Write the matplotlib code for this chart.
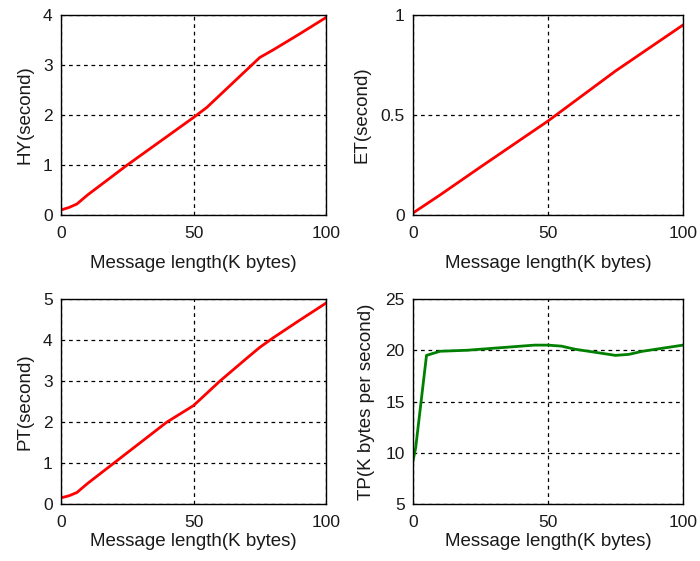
import numpy as np
import matplotlib.pyplot as plt

plt.rcParams["font.family"] = ["Liberation Sans", "DejaVu Sans"]

# message length (K bytes)
hy_x = [0, 3, 6, 10, 25, 40, 50, 55, 65, 75, 80, 90, 100]
hy_y = [0.1, 0.15, 0.22, 0.4, 1.0, 1.57, 1.95, 2.15, 2.65, 3.15, 3.3, 3.62, 3.95]

et_x = [0, 10, 25, 50, 75, 100]
et_y = [0.01, 0.1, 0.24, 0.47, 0.72, 0.95]

pt_x = [0, 3, 6, 10, 20, 30, 40, 50, 60, 70, 75, 80, 90, 100]
pt_y = [0.15, 0.2, 0.28, 0.5, 1.0, 1.5, 2.0, 2.4, 3.0, 3.55, 3.82, 4.05, 4.48, 4.9]

tp_x = [0, 1, 3, 5, 10, 20, 30, 40, 45, 50, 55, 60, 65, 70, 75, 80, 85, 90, 95, 100]
tp_y = [9.2, 10.5, 15.0, 19.5, 19.9, 20.0, 20.2, 20.4, 20.5, 20.5, 20.4, 20.1, 19.9, 19.7, 19.5, 19.6, 19.9, 20.1, 20.3, 20.5]

panels = [
    (hy_x, hy_y, "HY(second)", "red", (0, 4), [0, 1, 2, 3, 4], ["0", "1", "2", "3", "4"]),
    (et_x, et_y, "ET(second)", "red", (0, 1), [0, 0.5, 1], ["0", "0.5", "1"]),
    (pt_x, pt_y, "PT(second)", "red", (0, 5), [0, 1, 2, 3, 4, 5], ["0", "1", "2", "3", "4", "5"]),
    (tp_x, tp_y, "TP(K bytes per second)", "#008000", (5, 25), [5, 10, 15, 20, 25], ["5", "10", "15", "20", "25"]),
]

# axes boxes in pixels: left, top, right, bottom
boxes = [(61, 15, 326, 215), (413, 15, 683, 215), (61, 299, 326, 504), (413, 299, 683, 504)]
xlabel_pads = [10, 10, 2, 2]

W, H = 700, 561
fig = plt.figure(figsize=(W / 100, H / 100), dpi=100)

for (x, y, ylabel, color, ylim, yticks, ylabels), (l, t, r, b), xpad in zip(panels, boxes, xlabel_pads):
    ax = fig.add_axes([l / W, 1 - b / H, (r - l) / W, (b - t) / H])
    ax.plot(x, y, color=color, linewidth=2.0)
    ax.set_xlim(0, 100)
    ax.set_ylim(*ylim)
    ax.set_xticks([0, 50, 100])
    ax.set_xticklabels(["0", "50", "100"])
    ax.set_yticks(yticks)
    ax.set_yticklabels(ylabels)
    ax.grid(True, color="black", linestyle=(0, (3, 3)), linewidth=0.9)
    ax.tick_params(direction="in", length=0, labelsize=12.5, colors="#1a1a1a")
    ax.tick_params(axis="x", pad=8)
    ax.tick_params(axis="y", pad=6)
    for s in ax.spines.values():
        s.set_linewidth(1.0)
    ax.set_xlabel("Message length(K bytes)", fontsize=13.5, labelpad=xpad, color="#1a1a1a")
    ax.set_ylabel(ylabel, fontsize=13.5, labelpad=7, color="#1a1a1a")

fig.savefig("out.png", dpi=100)
